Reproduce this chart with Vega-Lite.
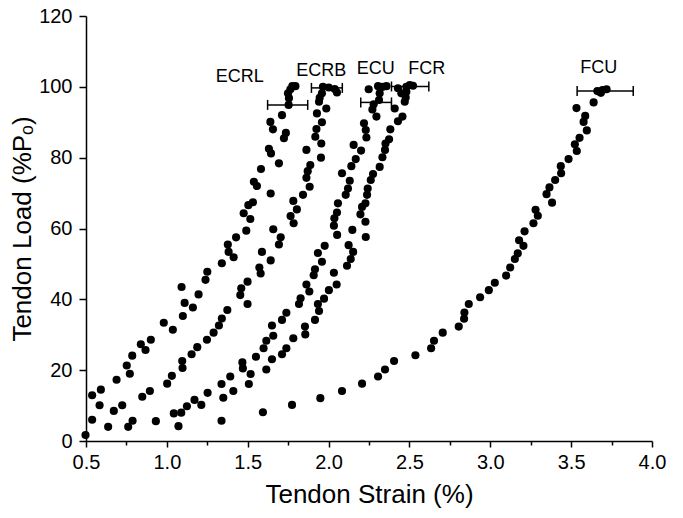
{
  "$schema": "https://vega.github.io/schema/vega-lite/v6.json",
  "width": 566,
  "height": 425,
  "autosize": {"type": "none"},
  "padding": {"left": 86, "top": 16, "right": 31, "bottom": 77},
  "background": "white",
  "config": {
    "view": {"stroke": null},
    "font": "Liberation Sans",
    "axis": {
      "grid": false,
      "domainColor": "black",
      "domainWidth": 1.5,
      "tickColor": "black",
      "tickWidth": 1.5,
      "labelColor": "black",
      "labelFont": "Liberation Sans",
      "labelFontSize": 20,
      "titleFont": "Liberation Sans",
      "titleFontSize": 26,
      "titleFontWeight": "normal",
      "titleColor": "black",
      "labelFlush": false,
      "labelOverlap": false
    }
  },
  "datasets": {
    "points": [
      {"muscle": "ECRL", "strain": 0.538, "load": 12.9},
      {"muscle": "ECRL", "strain": 0.592, "load": 14.5},
      {"muscle": "ECRL", "strain": 0.689, "load": 17.3},
      {"muscle": "ECRL", "strain": 0.752, "load": 21.3},
      {"muscle": "ECRL", "strain": 0.771, "load": 19.0},
      {"muscle": "ECRL", "strain": 0.786, "load": 24.1},
      {"muscle": "ECRL", "strain": 0.839, "load": 27.3},
      {"muscle": "ECRL", "strain": 0.868, "load": 25.7},
      {"muscle": "ECRL", "strain": 0.901, "load": 28.6},
      {"muscle": "ECRL", "strain": 0.981, "load": 33.4},
      {"muscle": "ECRL", "strain": 1.037, "load": 31.4},
      {"muscle": "ECRL", "strain": 1.091, "load": 43.5},
      {"muscle": "ECRL", "strain": 1.110, "load": 39.0},
      {"muscle": "ECRL", "strain": 1.099, "load": 35.3},
      {"muscle": "ECRL", "strain": 1.161, "load": 37.7},
      {"muscle": "ECRL", "strain": 1.196, "load": 41.4},
      {"muscle": "ECRL", "strain": 1.239, "load": 45.5},
      {"muscle": "ECRL", "strain": 1.250, "load": 47.8},
      {"muscle": "ECRL", "strain": 1.340, "load": 50.2},
      {"muscle": "ECRL", "strain": 1.382, "load": 53.4},
      {"muscle": "ECRL", "strain": 1.413, "load": 51.9},
      {"muscle": "ECRL", "strain": 1.377, "load": 55.5},
      {"muscle": "ECRL", "strain": 1.428, "load": 57.5},
      {"muscle": "ECRL", "strain": 1.491, "load": 59.4},
      {"muscle": "ECRL", "strain": 1.475, "load": 64.3},
      {"muscle": "ECRL", "strain": 1.516, "load": 62.7},
      {"muscle": "ECRL", "strain": 1.504, "load": 66.6},
      {"muscle": "ECRL", "strain": 1.532, "load": 67.4},
      {"muscle": "ECRL", "strain": 1.538, "load": 73.2},
      {"muscle": "ECRL", "strain": 1.557, "load": 72.0},
      {"muscle": "ECRL", "strain": 1.642, "load": 69.9},
      {"muscle": "ECRL", "strain": 1.582, "load": 76.8},
      {"muscle": "ECRL", "strain": 1.693, "load": 78.4},
      {"muscle": "ECRL", "strain": 1.631, "load": 82.5},
      {"muscle": "ECRL", "strain": 1.644, "load": 81.2},
      {"muscle": "ECRL", "strain": 1.724, "load": 85.5},
      {"muscle": "ECRL", "strain": 1.736, "load": 87.0},
      {"muscle": "ECRL", "strain": 1.640, "load": 90.1},
      {"muscle": "ECRL", "strain": 1.656, "load": 88.0},
      {"muscle": "ECRL", "strain": 1.712, "load": 92.0},
      {"muscle": "ECRL", "strain": 1.753, "load": 94.9},
      {"muscle": "ECRL", "strain": 1.755, "load": 96.8},
      {"muscle": "ECRL", "strain": 1.749, "load": 98.2},
      {"muscle": "ECRL", "strain": 1.764, "load": 99.3},
      {"muscle": "ECRL", "strain": 1.776, "load": 100.2},
      {"muscle": "ECRL", "strain": 1.795, "load": 100.2},
      {"muscle": "ECRB", "strain": 0.497, "load": 1.7},
      {"muscle": "ECRB", "strain": 0.538, "load": 6.0},
      {"muscle": "ECRB", "strain": 0.584, "load": 10.1},
      {"muscle": "ECRB", "strain": 0.637, "load": 4.0},
      {"muscle": "ECRB", "strain": 0.672, "load": 8.5},
      {"muscle": "ECRB", "strain": 0.724, "load": 10.1},
      {"muscle": "ECRB", "strain": 0.848, "load": 12.5},
      {"muscle": "ECRB", "strain": 0.895, "load": 14.1},
      {"muscle": "ECRB", "strain": 1.002, "load": 16.2},
      {"muscle": "ECRB", "strain": 1.031, "load": 18.4},
      {"muscle": "ECRB", "strain": 1.097, "load": 20.6},
      {"muscle": "ECRB", "strain": 1.095, "load": 22.6},
      {"muscle": "ECRB", "strain": 1.153, "load": 24.5},
      {"muscle": "ECRB", "strain": 1.188, "load": 26.5},
      {"muscle": "ECRB", "strain": 1.248, "load": 28.6},
      {"muscle": "ECRB", "strain": 1.289, "load": 30.6},
      {"muscle": "ECRB", "strain": 1.322, "load": 32.6},
      {"muscle": "ECRB", "strain": 1.340, "load": 34.6},
      {"muscle": "ECRB", "strain": 1.374, "load": 37.0},
      {"muscle": "ECRB", "strain": 1.499, "load": 38.7},
      {"muscle": "ECRB", "strain": 1.454, "load": 41.2},
      {"muscle": "ECRB", "strain": 1.460, "load": 43.1},
      {"muscle": "ECRB", "strain": 1.499, "load": 45.0},
      {"muscle": "ECRB", "strain": 1.580, "load": 47.3},
      {"muscle": "ECRB", "strain": 1.572, "load": 49.0},
      {"muscle": "ECRB", "strain": 1.642, "load": 51.0},
      {"muscle": "ECRB", "strain": 1.588, "load": 53.4},
      {"muscle": "ECRB", "strain": 1.693, "load": 55.5},
      {"muscle": "ECRB", "strain": 1.704, "load": 57.5},
      {"muscle": "ECRB", "strain": 1.658, "load": 59.8},
      {"muscle": "ECRB", "strain": 1.765, "load": 63.5},
      {"muscle": "ECRB", "strain": 1.784, "load": 61.5},
      {"muscle": "ECRB", "strain": 1.782, "load": 67.8},
      {"muscle": "ECRB", "strain": 1.804, "load": 65.4},
      {"muscle": "ECRB", "strain": 1.842, "load": 69.5},
      {"muscle": "ECRB", "strain": 1.883, "load": 71.8},
      {"muscle": "ECRB", "strain": 1.863, "load": 74.3},
      {"muscle": "ECRB", "strain": 1.871, "load": 76.2},
      {"muscle": "ECRB", "strain": 1.887, "load": 77.9},
      {"muscle": "ECRB", "strain": 1.953, "load": 80.0},
      {"muscle": "ECRB", "strain": 1.863, "load": 82.2},
      {"muscle": "ECRB", "strain": 1.955, "load": 84.0},
      {"muscle": "ECRB", "strain": 1.918, "load": 85.9},
      {"muscle": "ECRB", "strain": 1.925, "load": 88.1},
      {"muscle": "ECRB", "strain": 1.959, "load": 90.0},
      {"muscle": "ECRB", "strain": 1.928, "load": 92.5},
      {"muscle": "ECRB", "strain": 1.986, "load": 93.9},
      {"muscle": "ECRB", "strain": 1.941, "load": 95.8},
      {"muscle": "ECRB", "strain": 1.945, "load": 96.9},
      {"muscle": "ECRB", "strain": 1.959, "load": 98.2},
      {"muscle": "ECRB", "strain": 1.965, "load": 100.0},
      {"muscle": "ECRB", "strain": 2.001, "load": 99.8},
      {"muscle": "ECRB", "strain": 2.038, "load": 99.4},
      {"muscle": "ECRB", "strain": 2.052, "load": 98.4},
      {"muscle": "ECU", "strain": 0.761, "load": 4.0},
      {"muscle": "ECU", "strain": 0.788, "load": 5.7},
      {"muscle": "ECU", "strain": 0.932, "load": 5.6},
      {"muscle": "ECU", "strain": 1.043, "load": 7.8},
      {"muscle": "ECU", "strain": 1.089, "load": 8.0},
      {"muscle": "ECU", "strain": 1.124, "load": 9.8},
      {"muscle": "ECU", "strain": 1.171, "load": 11.6},
      {"muscle": "ECU", "strain": 1.252, "load": 13.6},
      {"muscle": "ECU", "strain": 1.338, "load": 16.1},
      {"muscle": "ECU", "strain": 1.392, "load": 18.2},
      {"muscle": "ECU", "strain": 1.467, "load": 22.2},
      {"muscle": "ECU", "strain": 1.470, "load": 20.5},
      {"muscle": "ECU", "strain": 1.551, "load": 23.8},
      {"muscle": "ECU", "strain": 1.598, "load": 26.2},
      {"muscle": "ECU", "strain": 1.615, "load": 28.3},
      {"muscle": "ECU", "strain": 1.658, "load": 29.7},
      {"muscle": "ECU", "strain": 1.650, "load": 32.6},
      {"muscle": "ECU", "strain": 1.712, "load": 34.2},
      {"muscle": "ECU", "strain": 1.739, "load": 36.2},
      {"muscle": "ECU", "strain": 1.817, "load": 38.7},
      {"muscle": "ECU", "strain": 1.827, "load": 40.3},
      {"muscle": "ECU", "strain": 1.881, "load": 42.2},
      {"muscle": "ECU", "strain": 1.863, "load": 44.2},
      {"muscle": "ECU", "strain": 1.908, "load": 46.8},
      {"muscle": "ECU", "strain": 1.916, "load": 48.5},
      {"muscle": "ECU", "strain": 1.959, "load": 50.6},
      {"muscle": "ECU", "strain": 1.934, "load": 53.1},
      {"muscle": "ECU", "strain": 1.976, "load": 55.1},
      {"muscle": "ECU", "strain": 2.053, "load": 58.2},
      {"muscle": "ECU", "strain": 2.033, "load": 60.8},
      {"muscle": "ECU", "strain": 2.036, "load": 62.9},
      {"muscle": "ECU", "strain": 2.052, "load": 64.5},
      {"muscle": "ECU", "strain": 2.058, "load": 67.1},
      {"muscle": "ECU", "strain": 2.106, "load": 69.5},
      {"muscle": "ECU", "strain": 2.120, "load": 71.3},
      {"muscle": "ECU", "strain": 2.131, "load": 73.5},
      {"muscle": "ECU", "strain": 2.083, "load": 75.6},
      {"muscle": "ECU", "strain": 2.141, "load": 77.6},
      {"muscle": "ECU", "strain": 2.168, "load": 79.6},
      {"muscle": "ECU", "strain": 2.201, "load": 82.0},
      {"muscle": "ECU", "strain": 2.155, "load": 83.6},
      {"muscle": "ECU", "strain": 2.234, "load": 85.7},
      {"muscle": "ECU", "strain": 2.230, "load": 87.8},
      {"muscle": "ECU", "strain": 2.219, "load": 89.7},
      {"muscle": "ECU", "strain": 2.296, "load": 91.6},
      {"muscle": "ECU", "strain": 2.271, "load": 93.6},
      {"muscle": "ECU", "strain": 2.279, "load": 95.1},
      {"muscle": "ECU", "strain": 2.312, "load": 96.3},
      {"muscle": "ECU", "strain": 2.316, "load": 98.2},
      {"muscle": "ECU", "strain": 2.248, "load": 99.3},
      {"muscle": "ECU", "strain": 2.306, "load": 100.2},
      {"muscle": "ECU", "strain": 2.335, "load": 100.0},
      {"muscle": "ECU", "strain": 2.358, "load": 100.2},
      {"muscle": "FCR", "strain": 1.072, "load": 4.2},
      {"muscle": "FCR", "strain": 1.213, "load": 10.2},
      {"muscle": "FCR", "strain": 1.338, "load": 5.7},
      {"muscle": "FCR", "strain": 1.349, "load": 12.2},
      {"muscle": "FCR", "strain": 1.411, "load": 14.1},
      {"muscle": "FCR", "strain": 1.507, "load": 16.1},
      {"muscle": "FCR", "strain": 1.518, "load": 18.9},
      {"muscle": "FCR", "strain": 1.615, "load": 20.2},
      {"muscle": "FCR", "strain": 1.650, "load": 23.1},
      {"muscle": "FCR", "strain": 1.712, "load": 24.5},
      {"muscle": "FCR", "strain": 1.739, "load": 26.2},
      {"muscle": "FCR", "strain": 1.782, "load": 29.0},
      {"muscle": "FCR", "strain": 1.856, "load": 30.1},
      {"muscle": "FCR", "strain": 1.854, "load": 32.3},
      {"muscle": "FCR", "strain": 1.916, "load": 34.2},
      {"muscle": "FCR", "strain": 1.941, "load": 36.7},
      {"muscle": "FCR", "strain": 1.934, "load": 38.7},
      {"muscle": "FCR", "strain": 1.972, "load": 40.2},
      {"muscle": "FCR", "strain": 2.002, "load": 42.6},
      {"muscle": "FCR", "strain": 2.050, "load": 44.2},
      {"muscle": "FCR", "strain": 2.033, "load": 47.5},
      {"muscle": "FCR", "strain": 2.114, "load": 49.5},
      {"muscle": "FCR", "strain": 2.137, "load": 51.4},
      {"muscle": "FCR", "strain": 2.152, "load": 53.4},
      {"muscle": "FCR", "strain": 2.124, "load": 55.3},
      {"muscle": "FCR", "strain": 2.230, "load": 57.6},
      {"muscle": "FCR", "strain": 2.147, "load": 59.6},
      {"muscle": "FCR", "strain": 2.228, "load": 61.9},
      {"muscle": "FCR", "strain": 2.197, "load": 64.0},
      {"muscle": "FCR", "strain": 2.207, "load": 66.1},
      {"muscle": "FCR", "strain": 2.228, "load": 67.1},
      {"muscle": "FCR", "strain": 2.238, "load": 69.5},
      {"muscle": "FCR", "strain": 2.242, "load": 71.3},
      {"muscle": "FCR", "strain": 2.261, "load": 73.7},
      {"muscle": "FCR", "strain": 2.275, "load": 75.4},
      {"muscle": "FCR", "strain": 2.316, "load": 77.4},
      {"muscle": "FCR", "strain": 2.333, "load": 80.1},
      {"muscle": "FCR", "strain": 2.349, "load": 82.2},
      {"muscle": "FCR", "strain": 2.352, "load": 84.0},
      {"muscle": "FCR", "strain": 2.374, "load": 85.2},
      {"muscle": "FCR", "strain": 2.382, "load": 88.0},
      {"muscle": "FCR", "strain": 2.429, "load": 90.3},
      {"muscle": "FCR", "strain": 2.457, "load": 91.6},
      {"muscle": "FCR", "strain": 2.409, "load": 93.9},
      {"muscle": "FCR", "strain": 2.471, "load": 95.8},
      {"muscle": "FCR", "strain": 2.477, "load": 97.0},
      {"muscle": "FCR", "strain": 2.450, "load": 98.2},
      {"muscle": "FCR", "strain": 2.481, "load": 98.6},
      {"muscle": "FCR", "strain": 2.429, "load": 99.6},
      {"muscle": "FCR", "strain": 2.481, "load": 100.0},
      {"muscle": "FCR", "strain": 2.502, "load": 100.5},
      {"muscle": "FCR", "strain": 2.522, "load": 100.3},
      {"muscle": "FCU", "strain": 1.594, "load": 8.1},
      {"muscle": "FCU", "strain": 1.774, "load": 10.2},
      {"muscle": "FCU", "strain": 1.949, "load": 12.1},
      {"muscle": "FCU", "strain": 2.083, "load": 14.1},
      {"muscle": "FCU", "strain": 2.207, "load": 16.2},
      {"muscle": "FCU", "strain": 2.306, "load": 18.2},
      {"muscle": "FCU", "strain": 2.349, "load": 20.2},
      {"muscle": "FCU", "strain": 2.405, "load": 22.6},
      {"muscle": "FCU", "strain": 2.537, "load": 24.2},
      {"muscle": "FCU", "strain": 2.634, "load": 26.2},
      {"muscle": "FCU", "strain": 2.652, "load": 28.3},
      {"muscle": "FCU", "strain": 2.706, "load": 30.6},
      {"muscle": "FCU", "strain": 2.805, "load": 32.3},
      {"muscle": "FCU", "strain": 2.838, "load": 34.5},
      {"muscle": "FCU", "strain": 2.840, "load": 36.3},
      {"muscle": "FCU", "strain": 2.867, "load": 38.7},
      {"muscle": "FCU", "strain": 2.937, "load": 40.6},
      {"muscle": "FCU", "strain": 2.991, "load": 42.6},
      {"muscle": "FCU", "strain": 3.028, "load": 44.7},
      {"muscle": "FCU", "strain": 3.098, "load": 46.7},
      {"muscle": "FCU", "strain": 3.123, "load": 49.0},
      {"muscle": "FCU", "strain": 3.152, "load": 51.4},
      {"muscle": "FCU", "strain": 3.170, "load": 53.0},
      {"muscle": "FCU", "strain": 3.205, "load": 55.1},
      {"muscle": "FCU", "strain": 3.178, "load": 56.7},
      {"muscle": "FCU", "strain": 3.212, "load": 59.2},
      {"muscle": "FCU", "strain": 3.267, "load": 61.5},
      {"muscle": "FCU", "strain": 3.294, "load": 63.6},
      {"muscle": "FCU", "strain": 3.280, "load": 65.3},
      {"muscle": "FCU", "strain": 3.382, "load": 67.3},
      {"muscle": "FCU", "strain": 3.348, "load": 69.7},
      {"muscle": "FCU", "strain": 3.366, "load": 71.6},
      {"muscle": "FCU", "strain": 3.401, "load": 73.7},
      {"muscle": "FCU", "strain": 3.438, "load": 75.6},
      {"muscle": "FCU", "strain": 3.436, "load": 77.6},
      {"muscle": "FCU", "strain": 3.484, "load": 79.6},
      {"muscle": "FCU", "strain": 3.535, "load": 81.9},
      {"muscle": "FCU", "strain": 3.523, "load": 83.8},
      {"muscle": "FCU", "strain": 3.552, "load": 85.6},
      {"muscle": "FCU", "strain": 3.597, "load": 87.7},
      {"muscle": "FCU", "strain": 3.577, "load": 90.1},
      {"muscle": "FCU", "strain": 3.587, "load": 91.8},
      {"muscle": "FCU", "strain": 3.533, "load": 94.0},
      {"muscle": "FCU", "strain": 3.639, "load": 95.6},
      {"muscle": "FCU", "strain": 3.684, "load": 98.3},
      {"muscle": "FCU", "strain": 3.662, "load": 98.8},
      {"muscle": "FCU", "strain": 3.694, "load": 99.1},
      {"muscle": "FCU", "strain": 3.719, "load": 99.3}
    ],
    "bars": [
      {"muscle": "ECRL", "lo": 1.623, "hi": 1.871, "load": 94.9, "lx": 1.450, "ly": 102.9},
      {"muscle": "ECRB", "lo": 1.894, "hi": 2.085, "load": 99.7, "lx": 1.955, "ly": 104.5},
      {"muscle": "ECU", "lo": 2.199, "hi": 2.389, "load": 95.6, "lx": 2.291, "ly": 105.0},
      {"muscle": "FCR", "lo": 2.389, "hi": 2.620, "load": 100.1, "lx": 2.607, "ly": 105.0},
      {"muscle": "FCU", "lo": 3.537, "hi": 3.884, "load": 98.8, "lx": 3.671, "ly": 105.2}
    ]
  },
  "layer": [
    {
      "data": {"name": "points"},
      "mark": {"type": "circle", "size": 66, "color": "black", "opacity": 1},
      "encoding": {
        "x": {
          "field": "strain", "type": "quantitative",
          "scale": {"domain": [0.5, 4.0], "nice": false, "zero": false},
          "title": "Tendon Strain (%)",
          "axis": {
            "values": [0.5, 0.75, 1.0, 1.25, 1.5, 1.75, 2.0, 2.25, 2.5, 2.75, 3.0, 3.25, 3.5, 3.75, 4.0],
            "labelExpr": "(datum.value * 4) % 2 == 0 ? format(datum.value, '.1f') : ''",
            "tickSize": {"condition": {"test": "(datum.value * 4) % 2 == 0", "value": 6}, "value": 4},
            "labelPadding": 5,
            "titlePadding": 9
          }
        },
        "y": {
          "field": "load", "type": "quantitative",
          "scale": {"domain": [0, 120], "nice": false, "zero": true},
          "title": "Tendon Load (%Pₒ)",
          "axis": {
            "values": [0, 10, 20, 30, 40, 50, 60, 70, 80, 90, 100, 110, 120],
            "labelExpr": "datum.value % 20 == 0 ? datum.label : ''",
            "tickSize": {"condition": {"test": "datum.value % 20 == 0", "value": 7}, "value": 4},
            "labelPadding": 7,
            "titlePadding": 3
          }
        }
      }
    },
    {
      "data": {"name": "bars"},
      "mark": {"type": "rule", "color": "black", "strokeWidth": 1.5},
      "encoding": {
        "x": {"field": "lo", "type": "quantitative", "title": "Tendon Strain (%)"},
        "x2": {"field": "hi"},
        "y": {"field": "load", "type": "quantitative", "title": "Tendon Load (%Pₒ)"}
      }
    },
    {
      "data": {"name": "bars"},
      "mark": {"type": "tick", "orient": "vertical", "size": 10, "thickness": 1.5, "color": "black", "opacity": 1},
      "encoding": {
        "x": {"field": "lo", "type": "quantitative", "title": "Tendon Strain (%)"},
        "y": {"field": "load", "type": "quantitative", "title": "Tendon Load (%Pₒ)"}
      }
    },
    {
      "data": {"name": "bars"},
      "mark": {"type": "tick", "orient": "vertical", "size": 10, "thickness": 1.5, "color": "black", "opacity": 1},
      "encoding": {
        "x": {"field": "hi", "type": "quantitative", "title": "Tendon Strain (%)"},
        "y": {"field": "load", "type": "quantitative", "title": "Tendon Load (%Pₒ)"}
      }
    },
    {
      "data": {"name": "bars"},
      "mark": {"type": "text", "fontSize": 18, "font": "Liberation Sans", "color": "black", "align": "center", "baseline": "middle"},
      "encoding": {
        "x": {"field": "lx", "type": "quantitative", "title": "Tendon Strain (%)"},
        "y": {"field": "ly", "type": "quantitative", "title": "Tendon Load (%Pₒ)"},
        "text": {"field": "muscle"}
      }
    }
  ]
}
